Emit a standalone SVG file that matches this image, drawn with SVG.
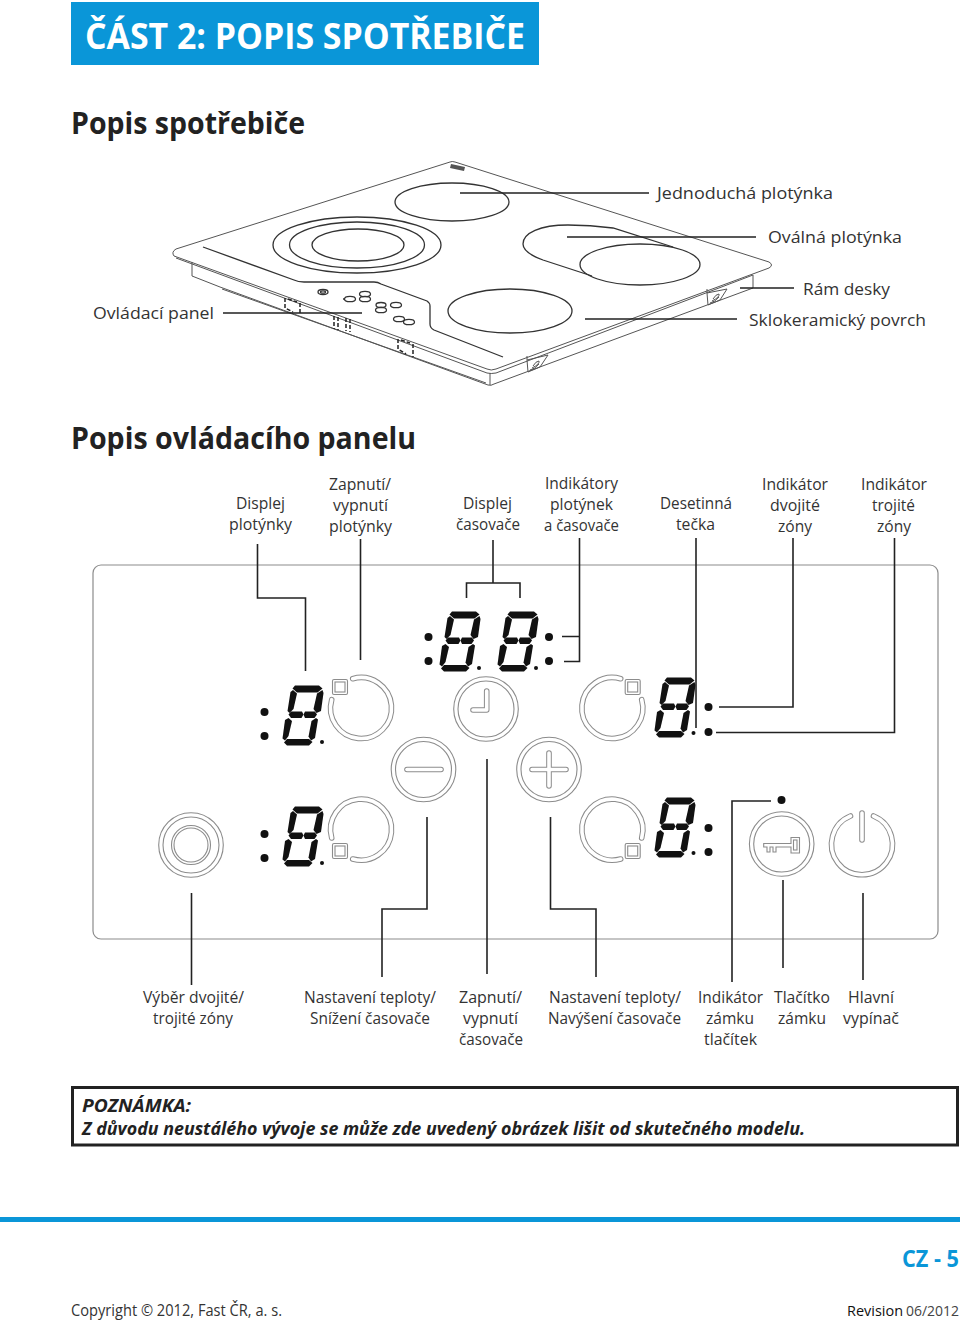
<svg xmlns="http://www.w3.org/2000/svg" width="960" height="1321" viewBox="0 0 960 1321">
<style>
text{font-family:"Open Sans","Noto Sans","Liberation Sans",sans-serif;font-size:17px;fill:#333}
.h1{font-size:31px;font-weight:700;fill:#222}
.conn{fill:none;stroke:#222;stroke-width:1.6}
.hob{fill:none;stroke:#555;stroke-width:1}
.hobd{fill:none;stroke:#333;stroke-width:1.3}
.ro{fill:none;stroke:#8c8c8c;stroke-width:5.6;stroke-linecap:round;stroke-linejoin:round}
.ri{fill:none;stroke:#fff;stroke-width:3.6;stroke-linecap:round;stroke-linejoin:round}
.dot{fill:#111}
.thin{fill:none;stroke:#8c8c8c;stroke-width:1.1}
.mini{fill:none;stroke:#222;stroke-width:1.5;stroke-dasharray:4 2}
</style>
<defs>
<g id="digit" fill="#111">
<path d="M13 0.500H37L40.500 3.500L35.500 7.500H15L10.500 3.500Z"/>
<path d="M11 5L15 8.500L11.500 24L7.500 28L5.500 26L8.500 7Z"/>
<path d="M40.500 5L41.500 8L39 26L34.500 28L31.500 24L35 8.500Z"/>
<path d="M9 26.500H20L21.500 29.500L19.500 33H9L6.500 29.500Z"/>
<path d="M23 26.500H33L35 29.500L32.500 33H23L21.500 29.500Z"/>
<path d="M6.500 33L10 36L6.500 51L3 55.500L0.500 53.500L3 35Z"/>
<path d="M34 33L36 34.500L33 53L29 55.500L26.500 51.500L29.500 36Z"/>
<path d="M5 54H27L30.500 57L27 60.500H5L2 57.500Z"/>
</g>
<g id="sq"><rect x="-7.500" y="-7.500" width="15" height="15" rx="1.500" class="thin"/><rect x="-5" y="-5" width="10" height="10" class="thin"/></g>
<g id="ring"><circle r="32.300" class="thin"/><circle r="28" class="thin"/></g>
</defs>
<rect width="960" height="1321" fill="#fff"/>

<g id="header"><rect x="71" y="2" width="468" height="63" fill="#0a96d8"/>
<text x="85" y="49" textLength="440" lengthAdjust="spacingAndGlyphs" style="font-size:36px;font-weight:700;fill:#fff">ČÁST 2: POPIS SPOTŘEBIČE</text></g>
<text class="h1" x="71" y="134" textLength="234" lengthAdjust="spacingAndGlyphs">Popis spotřebiče</text>
<text class="h1" x="71" y="449" textLength="345" lengthAdjust="spacingAndGlyphs">Popis ovládacího panelu</text>

<g id="hob">
<path class="hob" d="M450 162L176 249Q171 252 174 256L487 369Q491 371 496 369L769 268Q774 265 769 262L455 162Q452 161 450 162Z"/>
<path class="hob" d="M176 258L487 373Q491 374 496 373L753 275"/>
<path class="hob" d="M192 262V276L220 287L488 385Q491 386 494 384L753 288V275"/>
<path class="hob" d="M490 373V385"/>
<path class="hob" d="M222 289L486 383"/>
<path class="hobd" d="M203 247L294 280Q298 282 304 282H374Q378 282 381 284L427 301Q430 303 430 306V324Q430 328 434 330L503 357"/>
<ellipse class="hobd" cx="357" cy="245" rx="84" ry="28"/>
<ellipse class="hobd" cx="357" cy="245" rx="67.500" ry="23"/>
<ellipse class="hobd" cx="358" cy="245" rx="46" ry="16"/>
<ellipse class="hobd" cx="452" cy="202" rx="57" ry="19"/>
<path class="hobd" d="M673 247L613 228Q590 225 568 225C540 225 523 233 523 244C523 251 532 256 543 260L592 276"/>
<ellipse class="hobd" cx="640" cy="264.500" rx="60" ry="20.500"/>
<ellipse class="hobd" cx="510" cy="311" rx="62" ry="22"/>
<path d="M451 164l14 3-1 4-14-3z" fill="#555"/>
<path class="hob" d="M707 293L727 289L720 300L708 305ZM707 293V289M713 299q3-5 6-5q1 3-7 7M710 303q5-1 9-6"/>
<path class="hob" d="M527 360L548 355L540 367L528 372ZM527 360V356M533 366q3-5 6-5q1 3-7 7M530 370q5-1 9-6"/>
<g class="hobd" stroke-width="1">
<ellipse cx="323" cy="292" rx="5" ry="2.500"/><ellipse cx="323" cy="292" rx="2.500" ry="1.200"/>
<ellipse cx="350" cy="299" rx="5.500" ry="2.700"/><path d="M345 299h-2"/>
<ellipse cx="365" cy="294" rx="5.500" ry="2.700"/><ellipse cx="365" cy="299" rx="5.500" ry="2.700"/>
<ellipse cx="381" cy="305" rx="5" ry="2.500"/><ellipse cx="381" cy="310" rx="5.500" ry="2.700"/>
<ellipse cx="396" cy="305" rx="5.500" ry="2.700"/>
<ellipse cx="399" cy="319" rx="5.500" ry="2.700"/><ellipse cx="409" cy="322" rx="5.500" ry="2.700"/>
</g>
<path class="mini" d="M285 298V308L293 312M300 303V314M288 299L297 302"/>
<path class="mini" d="M398 339V349L406 354M413 344V357M401 340L410 343"/>
<path class="mini" d="M334 316V329M338 317V330M346 318V331M350 319V332"/>
</g>

<g id="panel"><rect x="93" y="565" width="845" height="374" rx="8" fill="none" stroke="#8c8c8c" stroke-width="1.200"/></g>

<g id="zone-display-1"><use href="#digit" x="282" y="685"/><circle class="dot" cx="264.500" cy="712" r="4"/><circle class="dot" cx="264.500" cy="736" r="4"/><circle class="dot" cx="322" cy="742" r="2"/></g>
<g id="zone-display-2"><use href="#digit" x="282" y="806"/><circle class="dot" cx="264.500" cy="834" r="4"/><circle class="dot" cx="264.500" cy="858" r="4"/><circle class="dot" cx="322" cy="863" r="2"/></g>
<g id="timer-display"><use href="#digit" x="439" y="611"/><use href="#digit" x="497" y="611"/><circle class="dot" cx="428.500" cy="637" r="4"/><circle class="dot" cx="428.500" cy="661" r="4"/><circle class="dot" cx="479" cy="668" r="2"/><circle class="dot" cx="536" cy="668" r="2"/><circle class="dot" cx="549" cy="637" r="4"/><circle class="dot" cx="549" cy="661" r="4"/></g>
<g id="zone-display-3"><use href="#digit" x="654" y="677"/><circle class="dot" cx="708.500" cy="707" r="4"/><circle class="dot" cx="708.500" cy="732" r="4"/><circle class="dot" cx="693.500" cy="733" r="2"/></g>
<g id="zone-display-4"><use href="#digit" x="654" y="797"/><circle class="dot" cx="708.500" cy="828" r="4"/><circle class="dot" cx="708.500" cy="852" r="4"/><circle class="dot" cx="693.500" cy="853" r="2"/></g>

<g id="ring-1"><path class="ro" d="M352.700 678.700A30.500 30.500 0 1 1 331.700 699.700"/><path class="ri" d="M352.700 678.700A30.500 30.500 0 1 1 331.700 699.700"/><use href="#sq" x="340" y="687"/></g>
<g id="ring-2"><path class="ro" d="M331.700 838A30.500 30.500 0 1 1 352.700 859"/><path class="ri" d="M331.700 838A30.500 30.500 0 1 1 352.700 859"/><use href="#sq" x="340" y="851"/></g>
<g id="ring-3"><path class="ro" d="M620.700 678.700A30.500 30.500 0 1 0 641.700 699.700"/><path class="ri" d="M620.700 678.700A30.500 30.500 0 1 0 641.700 699.700"/><use href="#sq" x="632.700" y="687"/></g>
<g id="ring-4"><path class="ro" d="M641.700 838A30.500 30.500 0 1 0 620.700 859"/><path class="ri" d="M641.700 838A30.500 30.500 0 1 0 620.700 859"/><use href="#sq" x="632.700" y="851"/></g>

<g id="btn-clock"><use href="#ring" x="486" y="709"/><path class="ro" d="M486.700 691V710H473"/><path class="ri" d="M486.700 691V710H473"/></g>
<g id="btn-minus"><use href="#ring" x="423.500" y="769.500"/><path class="ro" d="M407 769.500H441"/><path class="ri" d="M407 769.500H441"/></g>
<g id="btn-plus"><use href="#ring" x="549" y="769.500"/><path class="ro" d="M532 769.500H566M549 753V786"/><path class="ri" d="M532 769.500H566M549 753V786"/></g>
<g id="btn-select"><use href="#ring" x="191" y="845"/><circle cx="191" cy="845" r="19.500" class="thin"/><circle cx="191" cy="845" r="17" class="thin"/></g>
<g id="btn-key"><use href="#ring" x="781.700" y="844"/><path class="thin" d="M763.700 843.500H791V837.500H799.500V853H791V847H776V852H773V847H770V852H767V847H763.700Z"/><rect class="thin" x="793.500" y="840" width="3.500" height="10"/></g>
<g id="btn-power"><path class="ro" d="M850.500 816A30.500 30.500 0 1 0 873.500 816"/><path class="ri" d="M850.500 816A30.500 30.500 0 1 0 873.500 816"/><path class="ro" d="M862 813V840"/><path class="ri" d="M862 813V840"/></g>
<g id="lock-led"><circle class="dot" cx="781.500" cy="800" r="4"/></g>

<g id="connectors" class="conn">
<path d="M223 313H362M460 193H649M567 237H756M740 288H794M585 319H737"/>
<path d="M257.500 544V598H305.500V671"/>
<path d="M360.500 539V660"/>
<path d="M493 540V583M466.500 598V583H520V598"/>
<path d="M579.500 538V661.500H564M562 636.500H579.500"/>
<path d="M696 538V728"/>
<path d="M793 538V707H719"/>
<path d="M894.500 538V732.500H716"/>
<path d="M191.500 893V985"/>
<path d="M427 817V909H382V977"/>
<path d="M487 759V974"/>
<path d="M550.500 817V909H596V977"/>
<path d="M732 982V801H771"/>
<path d="M783 880V968"/>
<path d="M863 893V980"/>
</g>

<g id="hob-labels">
<text x="657" y="199" textLength="176" lengthAdjust="spacingAndGlyphs">Jednoduchá plotýnka</text>
<text x="768" y="243" textLength="134" lengthAdjust="spacingAndGlyphs">Oválná plotýnka</text>
<text x="803" y="295" textLength="87" lengthAdjust="spacingAndGlyphs">Rám desky</text>
<text x="749" y="326" textLength="177" lengthAdjust="spacingAndGlyphs">Sklokeramický povrch</text>
<text x="93" y="319" textLength="121" lengthAdjust="spacingAndGlyphs">Ovládací panel</text>
</g>
<g id="top-labels">
<text x="236" y="509" textLength="49" lengthAdjust="spacingAndGlyphs">Displej</text><text x="229" y="530" textLength="63" lengthAdjust="spacingAndGlyphs">plotýnky</text>
<text x="329" y="490" textLength="62" lengthAdjust="spacingAndGlyphs">Zapnutí/</text><text x="333" y="511" textLength="55" lengthAdjust="spacingAndGlyphs">vypnutí</text><text x="329" y="532" textLength="63" lengthAdjust="spacingAndGlyphs">plotýnky</text>
<text x="463" y="509" textLength="49" lengthAdjust="spacingAndGlyphs">Displej</text><text x="456" y="530" textLength="64" lengthAdjust="spacingAndGlyphs">časovače</text>
<text x="545" y="489" textLength="73" lengthAdjust="spacingAndGlyphs">Indikátory</text><text x="550" y="510" textLength="63" lengthAdjust="spacingAndGlyphs">plotýnek</text><text x="544" y="531" textLength="75" lengthAdjust="spacingAndGlyphs">a časovače</text>
<text x="660" y="509" textLength="72" lengthAdjust="spacingAndGlyphs">Desetinná</text><text x="676" y="530" textLength="39" lengthAdjust="spacingAndGlyphs">tečka</text>
<text x="762" y="490" textLength="66" lengthAdjust="spacingAndGlyphs">Indikátor</text><text x="770" y="511" textLength="50" lengthAdjust="spacingAndGlyphs">dvojité</text><text x="778" y="532" textLength="34" lengthAdjust="spacingAndGlyphs">zóny</text>
<text x="861" y="490" textLength="66" lengthAdjust="spacingAndGlyphs">Indikátor</text><text x="872" y="511" textLength="43" lengthAdjust="spacingAndGlyphs">trojité</text><text x="877" y="532" textLength="34" lengthAdjust="spacingAndGlyphs">zóny</text>
</g>
<g id="bottom-labels">
<text x="143" y="1003" textLength="101" lengthAdjust="spacingAndGlyphs">Výběr dvojité/</text><text x="153" y="1024" textLength="80" lengthAdjust="spacingAndGlyphs">trojité zóny</text>
<text x="304" y="1003" textLength="132" lengthAdjust="spacingAndGlyphs">Nastavení teploty/</text><text x="310" y="1024" textLength="120" lengthAdjust="spacingAndGlyphs">Snížení časovače</text>
<text x="459" y="1003" textLength="63" lengthAdjust="spacingAndGlyphs">Zapnutí/</text><text x="463" y="1024" textLength="55" lengthAdjust="spacingAndGlyphs">vypnutí</text><text x="459" y="1045" textLength="64" lengthAdjust="spacingAndGlyphs">časovače</text>
<text x="549" y="1003" textLength="132" lengthAdjust="spacingAndGlyphs">Nastavení teploty/</text><text x="548" y="1024" textLength="133" lengthAdjust="spacingAndGlyphs">Navýšení časovače</text>
<text x="698" y="1003" textLength="65" lengthAdjust="spacingAndGlyphs">Indikátor</text><text x="706" y="1024" textLength="48" lengthAdjust="spacingAndGlyphs">zámku</text><text x="704" y="1045" textLength="53" lengthAdjust="spacingAndGlyphs">tlačítek</text>
<text x="774" y="1003" textLength="56" lengthAdjust="spacingAndGlyphs">Tlačítko</text><text x="778" y="1024" textLength="48" lengthAdjust="spacingAndGlyphs">zámku</text>
<text x="848" y="1003" textLength="46" lengthAdjust="spacingAndGlyphs">Hlavní</text><text x="843" y="1024" textLength="56" lengthAdjust="spacingAndGlyphs">vypínač</text>
</g>
<g id="note"><rect x="72.500" y="1087.500" width="885" height="57.500" fill="none" stroke="#222" stroke-width="3"/>
<text x="82" y="1112" textLength="109" lengthAdjust="spacingAndGlyphs" style="font-weight:700;font-style:italic;font-size:18px;fill:#222">POZNÁMKA:</text>
<text x="82" y="1135" textLength="723" lengthAdjust="spacingAndGlyphs" style="font-weight:700;font-style:italic;font-size:18px;fill:#222">Z důvodu neustálého vývoje se může zde uvedený obrázek lišit od skutečného modelu.</text></g>
<g id="footer"><rect x="0" y="1217" width="960" height="5" fill="#0a96d8"/>
<text x="902" y="1267" textLength="57" lengthAdjust="spacingAndGlyphs" style="font-size:23px;font-weight:700;fill:#0a96d8">CZ - 5</text>
<text x="71" y="1316" textLength="211" lengthAdjust="spacingAndGlyphs" style="font-size:15.500px">Copyright © 2012, Fast ČR, a. s.</text>
<text x="847" y="1316" textLength="56" lengthAdjust="spacingAndGlyphs" style="font-size:14.500px;fill:#111">Revision</text>
<text x="906" y="1316" textLength="53" lengthAdjust="spacingAndGlyphs" style="font-size:14.500px;fill:#444">06/2012</text></g>
</svg>
